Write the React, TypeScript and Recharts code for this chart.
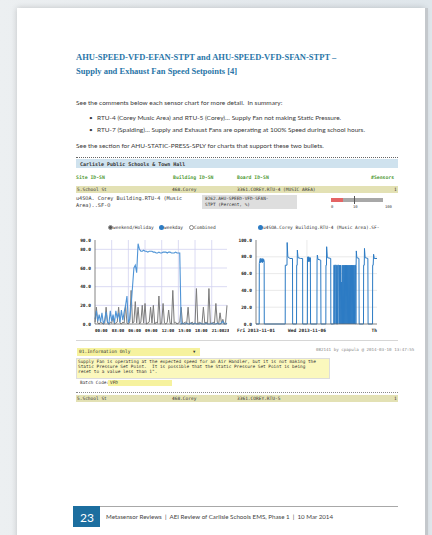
import React from 'react';
import { LineChart, Line, XAxis, YAxis, CartesianGrid } from 'recharts';

// 15-minute samples over one day (00:00 .. 23:45)
const weekend = [
  2, 18, 1, 0, 2, 1, 0, 1, 18, 1,
  0, 2, 1, 8, 0, 1, 2, 18, 1, 0,
  2, 1, 20, 1, 0, 2, 36, 1, 2, 24,
  1, 18, 0, 2, 20, 1, 22, 0, 1, 2,
  18, 1, 20, 0, 2, 1, 30, 0, 1, 22,
  1, 0, 2, 15, 1, 0, 36, 1, 2, 0,
  1, 2, 18, 0, 1, 2, 1, 18, 0, 1,
  2, 0, 1, 38, 0, 2, 1, 0, 18, 1,
  2, 0, 38, 1, 0, 2, 1, 22, 2, 0,
  12, 1, 5, 0, 2, 20,
];
const weekday = [
  5, 14, 3, 10, 2, 12, 0, 4, 13, 2,
  0, 14, 3, 10, 1, 14, 6, 12, 2, 15,
  4, 13, 20, 30, 2, 5, 20, 40, 60, 63,
  55, 86, 80, 78, 78, 79, 78, 78, 77, 78,
  78, 78, 77, 77, 76, 76, 77, 76, 76, 77,
  77, 77, 76, 77, 77, 76, 76, 76, 77, 76,
  76, 76, 0, 1, 0, 0, 1, 0, 0, 1,
  0, 0, 1, 0, 0, 0, 1, 0, 0, 0,
  1, 0, 0, 0, 1, 0, 0, 0, 1, 0,
  0, 1, 3, 0, 0, 1,
];
const hourTicks = [0, 12, 24, 36, 48, 60, 72, 84, 93];
const hourLabels = ['00:00', '03:00', '06:00', '09:00', '12:00', '15:00', '18:00', '21:00', '23:15'];
const leftYTicks = [0, 20, 40, 60, 80, 90];

// hours since Fri 2013-11-01 00:00
const rightHours = [
  0, 7.5, 7.8, 9, 10, 11, 12, 13, 14, 15, 16, 17, 18, 19.2, 19.5,
  68.8, 69, 73, 73.4, 75, 80, 86, 86.3,
  95.5, 95.8, 97, 97.4, 99, 105, 109.8, 110,
  121, 121.3, 122, 123, 124, 125, 126, 127, 128, 128.5,
  143.5, 143.8, 144.5, 146, 152.5, 153,
  164.5, 164.8, 166, 166.4, 168, 176, 176.3,
  183, 183.3, 185, 185.3, 186.3, 186.6, 188.3, 188.6, 189.6, 189.9, 191.6, 191.9,
  193, 193.3, 195, 196, 197, 198, 199, 200, 201, 202, 203, 204, 205, 206, 207, 208,
  209, 210, 211, 212, 213, 214, 215, 216, 217, 218, 219, 220, 221, 222, 223, 224,
  225, 226, 227, 228, 229, 230, 231, 232, 233, 234.5, 235,
  235.5, 235.8, 236.3, 237.5, 242.5, 243,
  253.2, 253.5, 255, 255.5, 257, 263.5, 264,
  274.5, 274.8, 276, 277, 278.5, 285,
];
const rightValues = [
  0, 0, 72, 76, 78, 73, 78, 74, 77, 73, 78, 74, 77, 75, 0,
  0, 70, 70, 97, 80, 78, 78, 0,
  0, 70, 70, 88, 79, 78, 78, 0,
  0, 75, 80, 74, 80, 75, 79, 74, 79, 0,
  0, 75, 82, 77, 76, 0,
  0, 70, 70, 92, 79, 78, 0,
  0, 70, 70, 0, 0, 70, 70, 0, 0, 70, 70, 0,
  0, 70, 70, 0, 70, 0, 70, 0, 50, 0, 70, 0, 70, 0, 70, 0,
  70, 0, 70, 0, 70, 0, 70, 0, 70, 0, 70, 0, 70, 0, 70, 0,
  70, 0, 70, 0, 70, 0, 70, 0, 70, 70, 0,
  0, 70, 87, 79, 78, 0,
  0, 70, 70, 90, 79, 78, 0,
  0, 70, 70, 83, 78, 78,
];
const rightTicks = [0, 120, 285];
const rightTickLabels = ['Fri 2013-11-01', 'Wed 2013-11-06', 'Th'];
const rightYTicks = [0, 20, 40, 60, 80, 100];

const leftData = weekday.map((v, i) => ({ i, weekday: v, weekend: weekend[i] }));
const rightData = rightHours.map((h, k) => ({ h, v: rightValues[k] }));

const mono = "'DejaVu Sans Mono', monospace";
const sans = "Lato, 'Open Sans', sans-serif";
const serif = "'Liberation Serif', serif";

const tickStyle = { fontSize: 4.5, fontFamily: mono, fontWeight: 'bold', fill: '#222' };

const T = ({ x, y, size = 4.6, color = '#333', font = mono, bold = false, children, style = {} }: any) => (
  <div
    style={{
      position: 'absolute', left: x, top: y - size * 0.6, fontSize: size, lineHeight: `${size * 1.2}px`,
      fontFamily: font, color, fontWeight: bold ? 'bold' : 'normal', whiteSpace: 'pre', ...style,
    }}
  >
    {children}
  </div>
);

const Box = ({ x, y, w, h, style }: any) => (
  <div style={{ position: 'absolute', left: x, top: y, width: w, height: h, ...style }} />
);

const Dot = ({ x, y, fill, border = 'none' }: any) => (
  <div style={{ position: 'absolute', left: x - 2.5, top: y - 2.5, width: 5, height: 5, borderRadius: '50%', background: fill, border, boxSizing: 'border-box' }} />
);

const HourTick = ({ x, y, payload }: any) => (
  <text x={x} y={y + 3.5} textAnchor="start" {...tickStyle} fontSize={4.2}>
    {hourLabels[hourTicks.indexOf(payload.value)]}
  </text>
);

const DayTick = ({ x, y, payload }: any) => {
  const k = rightTicks.indexOf(payload.value);
  return (
    <text x={x} y={y + 3.5} textAnchor={k === 2 ? 'end' : 'middle'} {...tickStyle}>
      {rightTickLabels[k]}
    </text>
  );
};

const DayChart = () => (
  <div style={{ position: 'absolute', left: 70, top: 235, width: 159, height: 100, overflow: 'hidden' }}>
    <LineChart width={165} height={100} data={leftData} margin={{ top: 5, right: 8, left: 0, bottom: 0 }}>
      <CartesianGrid stroke="#d2d2f0" strokeWidth={0.8} horizontalValues={[20, 40, 60, 80]} verticalValues={[12, 24, 36, 48, 60, 72, 84]} />
      <XAxis dataKey="i" type="number" domain={[0, 95]} ticks={hourTicks} tick={<HourTick />} tickLine={false} tickSize={2} height={11} stroke="#666" strokeWidth={0.8} interval={0} />
      <YAxis domain={[0, 90]} ticks={leftYTicks} tick={tickStyle} tickFormatter={(v: number) => v.toFixed(1)} tickLine={false} tickSize={2} width={25} stroke="#666" strokeWidth={0.8} interval={0} />
      <Line dataKey="weekend" type="linear" stroke="#7b7b7b" strokeWidth={1} dot={false} isAnimationActive={false} />
      <Line dataKey="weekday" type="linear" stroke="#4f94d6" strokeWidth={1.1} dot={false} isAnimationActive={false} />
    </LineChart>
  </div>
);

const WeekChart = () => (
  <div style={{ position: 'absolute', left: 230, top: 235, width: 152, height: 100 }}>
    <LineChart width={152} height={100} data={rightData} margin={{ top: 5, right: 5, left: 0, bottom: 0 }}>
      <CartesianGrid stroke="#e4e4e4" strokeWidth={0.8} horizontalValues={[20, 40, 60, 80]} verticalValues={[120]} />
      <XAxis dataKey="h" type="number" domain={[0, 285]} ticks={rightTicks} tick={<DayTick />} tickLine={false} tickSize={2} height={11} stroke="#666" strokeWidth={0.8} interval={0} />
      <YAxis domain={[0, 100]} ticks={rightYTicks} tick={tickStyle} tickFormatter={(v: number) => v.toFixed(1)} tickLine={false} tickSize={2} width={26} stroke="#666" strokeWidth={0.8} interval={0} />
      <Line dataKey="v" type="linear" stroke="#2c7bc4" strokeWidth={1} dot={false} isAnimationActive={false} />
    </LineChart>
  </div>
);

export default function App() {
  return (
    <div style={{ position: 'absolute', left: 0, top: 0, width: 432, height: 535, overflow: 'hidden', background: 'linear-gradient(90deg, #eceff1 0%, #e3e8ec 60%, #dfe6eb 100%)' }}>
      {/* page */}
      <Box x={17} y={8} w={408} h={540} style={{ background: '#fff', boxShadow: '0 0 6px rgba(0,0,0,0.18)' }} />
      <Box x={425} y={8} w={3} h={540} style={{ background: '#c4c8cc' }} />

      {/* heading */}
      <T x={76} y={57} size={8.5} font={serif} bold color="#2a76a8">AHU-SPEED-VFD-EFAN-STPT and AHU-SPEED-VFD-SFAN-STPT –</T>
      <T x={76} y={71} size={8.5} font={serif} bold color="#2a76a8">Supply and Exhaust Fan Speed Setpoints [4]</T>

      <T x={76} y={103} size={6.5} font={sans} color="#3a3a3a">See the comments below each sensor chart for more detail.  In summary:</T>
      <T x={89} y={118} size={6.5} font={sans} color="#3a3a3a">•</T>
      <T x={97} y={118} size={6.5} font={sans} color="#3a3a3a">RTU-4 (Corey Music Area) and RTU-5 (Corey)… Supply Fan not making Static Pressure.</T>
      <T x={89} y={130} size={6.5} font={sans} color="#3a3a3a">•</T>
      <T x={97} y={130} size={6.5} font={sans} color="#3a3a3a">RTU-7 (Spalding)… Supply and Exhaust Fans are operating at 100% Speed during school hours.</T>
      <T x={76} y={146} size={6.5} font={sans} color="#3a3a3a">See the section for AHU-STATIC-PRESS-SPLY for charts that support these two bullets.</T>

      {/* screenshot block */}
      <Box x={76} y={157} w={322} h={0} style={{ borderTop: '1px dotted #666' }} />
      <Box x={76} y={159} w={322} h={9} style={{ background: '#cfe2ee' }} />
      <T x={80} y={163.5} size={5} bold color="#333">Carlisle Public Schools &amp; Town Hall</T>

      <T x={76} y={178} size={4.8} bold color="#4f9a35">Site ID-SN</T>
      <T x={173} y={178} size={4.8} bold color="#4f9a35">Building ID-SN</T>
      <T x={237} y={178} size={4.8} bold color="#4f9a35">Board ID-SN</T>
      <T x={371} y={178} size={4.8} bold color="#4f9a35">#Sensors</T>

      <Box x={76} y={186} w={322} h={7} style={{ background: '#e3e1b4' }} />
      <T x={77} y={189.5} size={4.5}>5.School St</T>
      <T x={172} y={189.5} size={4.5}>468.Corey</T>
      <T x={237} y={189.5} size={4.5}>3361.COREY.RTU-4 (MUSIC AREA)</T>
      <T x={394} y={189.5} size={4.5}>1</T>

      <T x={76} y={198} size={5.2}>u4SOA. Corey Building.RTU-4 (Music</T>
      <T x={76} y={205} size={5.2}>Area)..SF-O</T>
      <Box x={202} y={195} w={95} h={14} style={{ background: '#dedede' }} />
      <T x={205} y={199} size={4.4}>8262.AHU-SPEED-VFD-SFAN-</T>
      <T x={205} y={205} size={4.4}>STPT (Percent, %)</T>
      <Box x={331} y={198} w={52} h={4} style={{ background: '#a8a8a8' }} />
      <Box x={331} y={198} w={12} h={4} style={{ background: '#e46464' }} />
      <Box x={354} y={196} w={1} h={8} style={{ background: '#555' }} />
      <T x={331} y={207} size={3.8}>0</T>
      <T x={353} y={207} size={3.8}>10</T>
      <T x={385} y={207} size={3.8}>100</T>

      {/* legends */}
      <Dot x={110} y={227.5} fill="#555" border="0.6px solid #999" />
      <T x={113} y={227.5} size={4.5}>weekend/Holiday</T>
      <Dot x={161} y={227.5} fill="#2c7bc4" />
      <T x={164} y={227.5} size={4.5}>weekday</T>
      <Dot x={191} y={227.5} fill="#fff" border="0.7px solid #888" />
      <T x={194} y={227.5} size={4.5}>Combined</T>
      <Dot x={260} y={227.5} fill="#2c7bc4" />
      <T x={263} y={227.5} size={4.5}>u4SOA.Corey Building.RTU-4 (Music Area).SF-</T>

      <DayChart />
      <WeekChart />

      {/* comment area */}
      <Box x={76} y={340} w={322} h={0} style={{ borderTop: '1px solid #d6d6d6' }} />
      <Box x={77} y={348} w={123} h={8} style={{ background: '#f6f29e' }} />
      <T x={79} y={352} size={4.5} color="#333">01.Information Only</T>
      <T x={193} y={352} size={4} color="#333">▼</T>
      <T x={316} y={350} size={4.2} color="#8a8a8a">082141 by cpapula @ 2014-03-10 13:47:55</T>
      <Box x={76} y={358} w={254} h={21} style={{ background: '#fbf8bd', border: '0.6px solid #ddd', boxSizing: 'border-box' }} />
      <T x={78} y={361.5} size={4.4}>Supply Fan is operating at the expected speed for an Air Handler, but it is not making the</T>
      <T x={78} y={366.5} size={4.4}>Static Pressure Set Point.  It is possible that the Static Pressure Set Point is being</T>
      <T x={78} y={371.5} size={4.4}>reset to a value less than 1".</T>
      <T x={80} y={383} size={4.4}>Batch Code:</T>
      <Box x={108} y={380} w={64} h={6} style={{ background: '#f6f29e' }} />
      <T x={110} y={383} size={4.4}>VFD</T>
      <Box x={76} y={392} w={322} h={0} style={{ borderTop: '1px dotted #888' }} />
      <Box x={76} y={395} w={322} h={7} style={{ background: '#e3e1b4' }} />
      <T x={77} y={398.5} size={4.5}>5.School St</T>
      <T x={172} y={398.5} size={4.5}>468.Corey</T>
      <T x={237} y={398.5} size={4.5}>3361.COREY.RTU-5</T>
      <T x={394} y={398.5} size={4.5}>1</T>

      {/* footer */}
      <Box x={100} y={506} w={298} h={1} style={{ background: '#a8a8a8' }} />
      <Box x={73} y={506} w={27} h={21} style={{ background: '#1c6e9f' }} />
      <T x={80} y={518} size={12} font={sans} color="#fff">23</T>
      <T x={106} y={517} size={6.2} font={sans} color="#444">Metasensor Reviews  |  AEI Review of Carlisle Schools EMS, Phase 1  |  10 Mar 2014</T>
    </div>
  );
}
